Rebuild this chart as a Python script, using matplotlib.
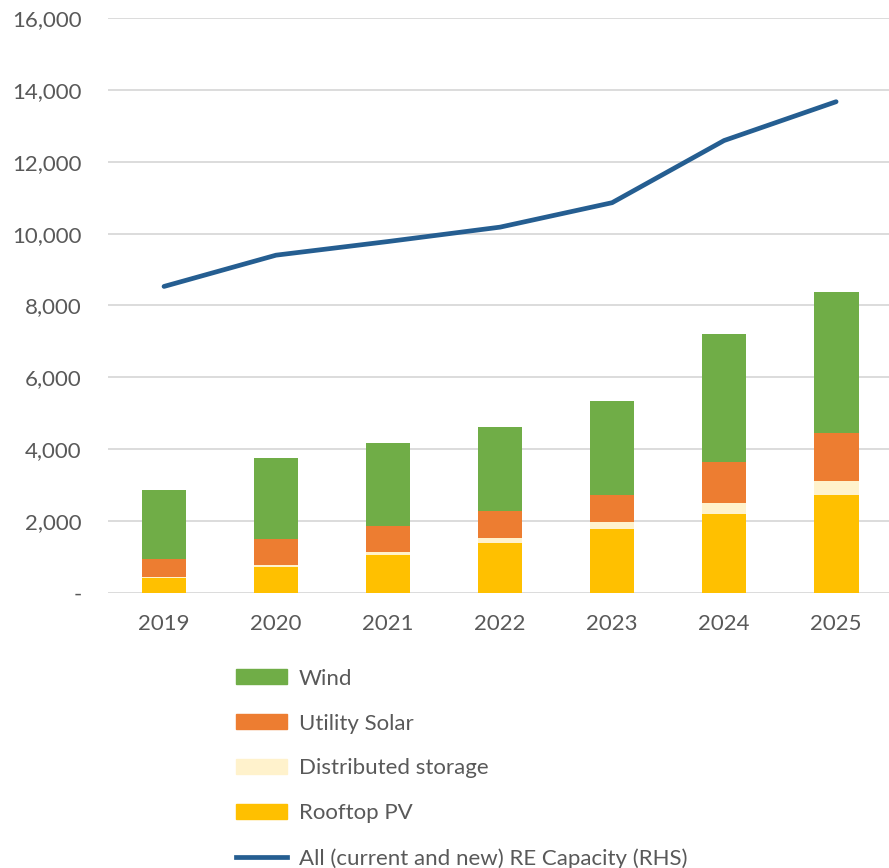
import numpy as np
import matplotlib.pyplot as plt
from matplotlib.patches import Patch
from matplotlib.lines import Line2D

years = ['2019', '2020', '2021', '2022', '2023', '2024', '2025']
rooftop_pv = [420, 720, 1050, 1380, 1770, 2210, 2740]
dist_storage = [30, 60, 100, 160, 215, 305, 390]
utility_solar = [500, 710, 720, 745, 745, 1140, 1310]
wind = [1920, 2270, 2310, 2330, 2620, 3545, 3930]
re_capacity = [8530, 9400, 9780, 10180, 10860, 12590, 13670]

plt.rcParams['font.family'] = ['Lato', 'DejaVu Sans']
grey = '#595959'
fs = 16

fig = plt.figure(figsize=(8.89, 8.68), dpi=100)
ax = fig.add_axes([0.1215, 0.3168, 0.882, 0.6625])

x = np.arange(len(years))
w = 0.4
bottom = np.zeros(len(years))
series = [(rooftop_pv, '#FFC000', 'Rooftop PV'),
          (dist_storage, '#FFF2CC', 'Distributed storage'),
          (utility_solar, '#ED7D31', 'Utility Solar'),
          (wind, '#70AD47', 'Wind')]
for vals, col, lab in series:
    ax.bar(x, vals, w, bottom=bottom, color=col, label=lab, zorder=2)
    bottom += np.array(vals)

ax.plot(x, re_capacity, color='#255E91', lw=3.4, solid_capstyle='round',
        solid_joinstyle='round', zorder=3)

ax.set_xlim(-0.5, len(years) - 0.5)
ax.set_ylim(0, 16000)
ax.set_yticks(np.arange(0, 16001, 2000))
ax.set_yticklabels(['-'] + [f'{v:,}' for v in range(2000, 16001, 2000)])
ax.set_xticks(x)
ax.set_xticklabels(years)
ax.grid(axis='y', color='#D9D9D9', lw=1.3, zorder=0)
ax.set_axisbelow(True)
for s in ax.spines.values():
    s.set_visible(False)
ax.tick_params(axis='y', length=0, pad=19, labelsize=fs, labelcolor=grey)
ax.tick_params(axis='x', length=0, pad=15, labelsize=fs, labelcolor=grey)

handles = [Patch(color='#70AD47'), Patch(color='#ED7D31'), Patch(color='#FFF2CC'),
           Patch(color='#FFC000'), Line2D([], [], color='#255E91', lw=3.4)]
labels = ['Wind', 'Utility Solar', 'Distributed storage', 'Rooftop PV',
          'All (current and new) RE Capacity (RHS)']
fig.legend(handles, labels, loc='upper left', bbox_to_anchor=(0.2655, 0.2297),
           frameon=False, fontsize=fs, labelcolor=grey, handlelength=2.3,
           handleheight=0.68, handletextpad=0.54, labelspacing=1.12,
           borderaxespad=0, borderpad=0)

fig.savefig('out.png', dpi=100)
